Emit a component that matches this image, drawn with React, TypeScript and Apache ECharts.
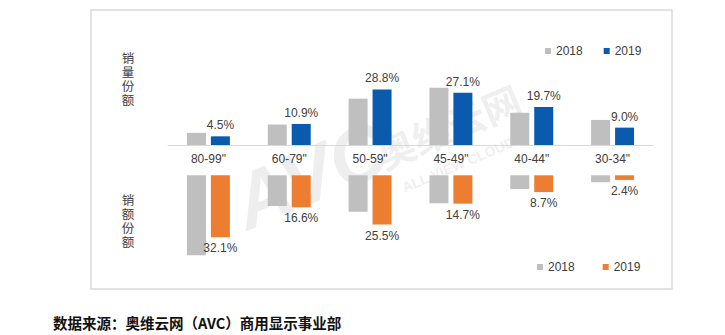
import React, { useEffect, useRef } from "react";
import * as echarts from "echarts";

const categories = ['80-99"', '60-79"', '50-59"', '45-49"', '40-44"', '30-34"'];
const volume2018 = [6.3, 10.6, 24.0, 29.7, 16.7, 13.0];
const volume2019 = [4.5, 10.9, 28.8, 27.1, 19.7, 9.0];
const value2018 = [41.4, 15.9, 18.9, 14.5, 7.1, 3.6];
const value2019 = [32.1, 16.6, 25.5, 14.7, 8.7, 2.4];
const legendYears = ["2018", "2019"];
const volumeTitle = ["销", "量", "份", "额"];
const valueTitle = ["销", "额", "份", "额"];

const FONT = "'Liberation Sans', Arial, 'Noto Sans CJK SC', sans-serif";
const TXT = "#404040";
const GRAY = "#BFBFBF";
const BLUE = "#0A5BAD";
const ORANGE = "#ED7D31";

function verticalTitle(chars: string[], x: number, y0: number) {
  return chars.map((c, i) => ({
    type: "text",
    x,
    y: y0 + i * 14,
    style: {
      text: c,
      fill: TXT,
      font: "12.5px 'Liberation Sans', 'Noto Sans CJK SC', sans-serif",
      textAlign: "center",
      textVerticalAlign: "middle",
    },
  }));
}

export default function App() {
  const ref = useRef<HTMLDivElement>(null);
  useEffect(() => {
    document.body.style.margin = "0";
    const chart = echarts.init(ref.current!, null, { renderer: "svg" });
    const labelBase = {
      show: true,
      fontSize: 12,
      color: TXT,
      fontFamily: FONT,
      distance: 5,
    };
    const wm = "rgba(200,200,200,0.3)";
    chart.setOption({
      animation: false,
      backgroundColor: "#fff",
      textStyle: { fontFamily: FONT },
      grid: [
        { left: 168, width: 485, top: 67.8, height: 77.2 },
        { left: 168, width: 485, top: 175.3, height: 86.85 },
      ],
      xAxis: [
        {
          type: "category",
          gridIndex: 0,
          data: categories,
          axisLine: { lineStyle: { color: "#D9D9D9", width: 1 } },
          axisTick: { show: false },
          axisLabel: { color: TXT, fontSize: 12, margin: 8, fontFamily: FONT },
        },
        {
          type: "category",
          gridIndex: 1,
          data: categories,
          position: "top",
          axisLine: { show: false },
          axisTick: { show: false },
          axisLabel: { show: false },
        },
      ],
      yAxis: [
        { type: "value", gridIndex: 0, min: 0, max: 40, show: false, splitLine: { show: false } },
        { type: "value", gridIndex: 1, min: -45, max: 0, show: false, splitLine: { show: false } },
      ],
      legend: [
        {
          data: [legendYears[0] + "量", legendYears[1] + "量"],
          formatter: (n: string) => n.slice(0, 4),
          left: 540,
          top: 40,
          icon: "rect",
          itemWidth: 6,
          itemHeight: 6,
          itemGap: 21,
          textStyle: { color: TXT, fontSize: 12, fontFamily: FONT },
        },
        {
          data: [legendYears[0] + "额", legendYears[1] + "额"],
          formatter: (n: string) => n.slice(0, 4),
          left: 532,
          top: 256,
          icon: "rect",
          itemWidth: 6,
          itemHeight: 6,
          itemGap: 28,
          textStyle: { color: TXT, fontSize: 12, fontFamily: FONT },
        },
      ],
      series: [
        {
          name: legendYears[0] + "量",
          type: "bar",
          xAxisIndex: 0,
          yAxisIndex: 0,
          data: volume2018,
          barWidth: 19,
          barGap: "26%",
          itemStyle: { color: GRAY },
        },
        {
          name: legendYears[1] + "量",
          type: "bar",
          xAxisIndex: 0,
          yAxisIndex: 0,
          data: volume2019,
          barWidth: 19,
          barGap: "26%",
          itemStyle: { color: BLUE },
          label: { ...labelBase, position: "top", formatter: (p: any) => p.value.toFixed(1) + "%" },
        },
        {
          name: legendYears[0] + "额",
          type: "bar",
          xAxisIndex: 1,
          yAxisIndex: 1,
          data: value2018.map((v) => -v),
          barWidth: 19,
          barGap: "26%",
          itemStyle: { color: GRAY },
        },
        {
          name: legendYears[1] + "额",
          type: "bar",
          xAxisIndex: 1,
          yAxisIndex: 1,
          data: value2019.map((v) => -v),
          barWidth: 19,
          barGap: "26%",
          itemStyle: { color: ORANGE },
          label: {
            ...labelBase,
            position: "bottom",
            formatter: (p: any) => Math.abs(p.value).toFixed(1) + "%",
          },
        },
      ],
      graphic: [
        {
          type: "rect",
          shape: { x: 91, y: 10, width: 581, height: 279 },
          style: { fill: "none", stroke: "#D9D9D9", lineWidth: 1.5 },
          silent: true,
          z: -10,
        },
        ...verticalTitle(volumeTitle, 128, 59),
        ...verticalTitle(valueTitle, 128, 200.5),
        {
          type: "group",
          x: 252,
          y: 242,
          rotation: 0.4,
          silent: true,
          z: 100,
          children: [
            {
              type: "text",
              x: 0,
              y: 0,
              style: {
                text: "AVC",
                fill: wm,
                font: "italic bold 78px 'Liberation Sans', Arial, sans-serif",
                textVerticalAlign: "bottom",
              },
            },
            {
              type: "text",
              x: 150,
              y: -12,
              style: {
                text: "奥维云网",
                fill: wm,
                font: "bold 38px 'Noto Sans CJK SC', sans-serif",
                textVerticalAlign: "bottom",
              },
            },
            {
              type: "text",
              x: 160,
              y: 2,
              style: {
                text: "ALL VIEW CLOUD",
                fill: wm,
                font: "bold 14px 'Liberation Sans', Arial, sans-serif",
                textVerticalAlign: "top",
              },
            },
          ],
        },
        {
          type: "text",
          x: 53,
          y: 322,
          style: {
            text: "数据来源：奥维云网（AVC）商用显示事业部",
            fill: "#111",
            font: "bold 14.5px 'Noto Sans CJK SC', sans-serif",
            textVerticalAlign: "middle",
          },
        },
      ],
    });
    return () => chart.dispose();
  }, []);
  return <div ref={ref} style={{ width: 725, height: 335 }} />;
}
